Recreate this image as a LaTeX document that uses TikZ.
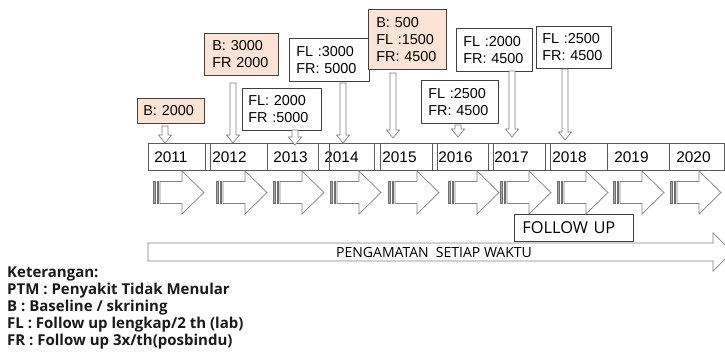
\documentclass[tikz,border=0pt]{standalone}
\usepackage{fontspec}
\setmainfont{Liberation Sans}
\newfontfamily\uifont{Open Sans}
\usetikzlibrary{calc}

\definecolor{peach}{RGB}{251,228,213}
\definecolor{boxline}{RGB}{64,64,64}
\definecolor{cellline}{RGB}{90,90,90}
\definecolor{arrline}{RGB}{128,128,128}
\definecolor{stripecol}{RGB}{110,110,110}

% info box: name, left, top, width, height, fill, text inset, text
\newcommand\infobox[8]{%
  \pgfmathsetmacro\ibw{#4}\pgfmathsetmacro\ibtw{#4-2*#7}%
  \node[infobox, fill=#6, minimum width=\ibw pt, minimum height=#5pt,
        text width=\ibtw pt, inner xsep=#7pt] (#1) at (#2,#3) {#8};}

% year cell: name, left, right, text inset, year
\newcommand\yearcell[5]{%
  \pgfmathsetmacro\ycw{#3-#2}\pgfmathsetmacro\yctw{#3-#2-2*#4}%
  \node[yearbox, minimum width=\ycw pt, text width=\yctw pt, inner xsep=#4pt] (#1) at (#2,143) {#5};}

% hollow block arrow pointing down, from #1 to #2
\newcommand\blockdn[2]{%
  \draw[hollow] let \p1=(#1), \p2=(#2) in
    (\x1-3pt,\y1) -- (\x1+3pt,\y1) -- (\x1+3pt,\y2+8pt) -- (\x1+6.5pt,\y2+8pt)
    -- (\x1,\y2) -- (\x1-6.5pt,\y2+8pt) -- (\x1-3pt,\y2+8pt) -- cycle;}

\begin{document}
\begin{tikzpicture}[x=1pt,y=-1pt,
  infobox/.style={draw=boxline, line width=0.7pt, anchor=north west, inner ysep=0pt,
    align=left, font=\fontsize{14.4}{17.3}\selectfont},
  yearbox/.style={draw=cellline, line width=0.7pt, anchor=north west, minimum height=27pt,
    inner ysep=0pt, align=left, font=\fontsize{15.4}{17}\selectfont},
  hollow/.style={draw=arrline, fill=white, line width=0.7pt},
  stripe/.style={draw=stripecol, fill=stripecol!60, line width=0.5pt},
  plainbox/.style={draw=boxline, line width=0.7pt, fill=white, anchor=north west}]

\useasboundingbox (0,0) rectangle (725,361);

% ---- timeline of years ----
\draw[draw=cellline, line width=0.7pt] (148,143) rectangle (724,170);
\yearcell{c2011}{148}{205}{6}{2011}
\yearcell{c2012}{210}{267}{2}{2012}
\yearcell{c2013}{267}{318}{6}{2013}
\yearcell{c2014}{318}{374}{6}{2014}
\yearcell{c2015}{380}{432}{2}{2015}
\yearcell{c2016}{437}{488}{1}{2016}
\yearcell{c2017}{493}{545}{1}{2017}
\yearcell{c2018}{550}{607}{2}{2018}
\yearcell{c2019}{607}{669}{7}{2019}
\yearcell{c2020}{669}{724}{7}{2020}
\draw[draw=cellline, line width=0.7pt] (c2014.north west) ++(11,0) -- ++(0,27);

% ---- counts per year ----
\infobox{b2011}{137}{98}{67}{25}{peach}{6}{B: 2000}
\infobox{b2012}{204}{33}{74}{42}{peach}{8}{B: 3000\\FR 2000}
\infobox{b2013}{242}{88}{79}{42}{white}{6}{FL: 2000\\FR :5000}
\infobox{b2014}{289}{38}{80}{43}{white}{7}{FL :3000\\FR: 5000}
\infobox{b2015}{368}{9}{78}{60}{peach}{8}{B: 500\\FL :1500\\FR: 4500}
\infobox{b2016}{421}{80}{77}{43}{white}{7}{FL :2500\\FR: 4500}
\infobox{b2017}{456}{28}{76}{43}{white}{7}{FL :2000\\FR: 4500}
\infobox{b2018}{536}{26}{75}{42}{white}{6}{FL :2500\\FR: 4500}

% ---- arrows from counts to years ----
\coordinate (s2011) at (165,126); \coordinate (e2011) at (165,143);
\coordinate (s2012) at (233,83);  \coordinate (e2012) at (233,143);
\coordinate (s2013) at (295,130); \coordinate (e2013) at (295,145);
\coordinate (s2014) at (343,83);  \coordinate (e2014) at (343,143);
\coordinate (s2015) at (393,73);  \coordinate (e2015) at (393,138);
\coordinate (s2016) at (458,125); \coordinate (e2016) at (458,137);
\coordinate (s2017) at (512,71);  \coordinate (e2017) at (512,137);
\coordinate (s2018) at (565,69);  \coordinate (e2018) at (565,140);
\foreach \yr in {2011,2012,2013,2014,2015,2016,2017,2018}{\blockdn{s\yr}{e\yr}}

% ---- striped arrows under the years ----
\foreach \sx in {153,216,273,330,388,448,500,557,613,670}{
  \draw[stripe] (\sx,181.5) rectangle (\sx+2.5,203.5);
  \draw[stripe] (\sx+4,181.5) rectangle (\sx+5.5,203.5);
  \draw[hollow] (\sx+7,181.5) -- (\sx+29,181.5) -- (\sx+29,171) -- (\sx+51,192.5)
    -- (\sx+29,214) -- (\sx+29,203.5) -- (\sx+7,203.5) -- cycle;
}

% ---- follow up label ----
\node[plainbox, minimum width=119pt, minimum height=27pt, text width=103pt, inner xsep=8pt,
  align=left, font=\uifont\fontsize{16.4}{18}\selectfont] (fu) at (514,214) {FOLLOW UP};

% ---- observation arrow ----
\draw[hollow] (148,243) -- (713,243) -- (713,233) -- (732,252) -- (713,271) -- (713,261)
  -- (148,261) -- cycle;
\node[font=\uifont\fontsize{14}{16}\selectfont] (obs) at (434,252) {PENGAMATAN\ \ SETIAP WAKTU};

% ---- legend ----
\node[anchor=north west, inner sep=0pt, align=left, text=black!90,
  font=\uifont\bfseries\fontsize{15}{16.8}\selectfont] (legend) at (7,267)
  {Keterangan:\\PTM : Penyakit Tidak Menular\\B : Baseline / skrining\\FL : Follow up lengkap/2 th (lab)\\FR : Follow up 3x/th(posbindu)};
\end{tikzpicture}
\end{document}
